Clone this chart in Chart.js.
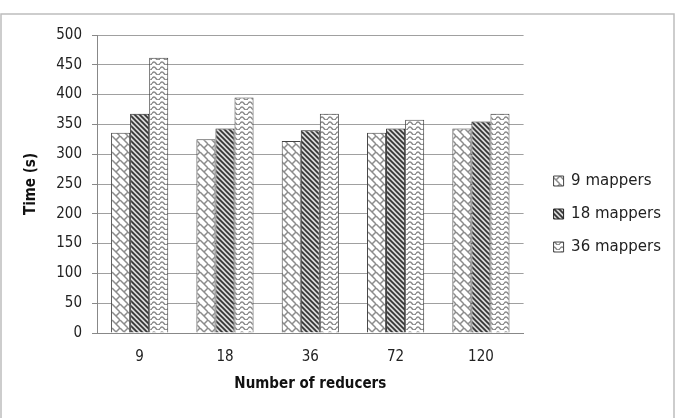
<!DOCTYPE html>
<html><head><meta charset="utf-8">
<script src="https://cdn.jsdelivr.net/npm/chart.js@4/dist/chart.umd.min.js"></script>
<style>html,body{margin:0;padding:0;background:#fff}#wrap{width:683px;height:418px;position:relative}</style>
</head><body><div id="wrap"><canvas id="c" width="683" height="418"></canvas></div>
<script>
const categories = ['9', '18', '36', '72', '120'];
const mappers9 = [336, 325, 322, 336, 343];
const mappers18 = [368, 343, 340, 343, 355];
const mappers36 = [462, 395, 368, 358, 368];
const seriesNames = ['9 mappers', '18 mappers', '36 mappers'];
const yTicks = [0, 50, 100, 150, 200, 250, 300, 350, 400, 450, 500];

function pattern(type) {
  const c = document.createElement('canvas');
  const x = c.getContext('2d');
  if (type === 1) {
    c.width = 8; c.height = 8;
    x.fillStyle = '#fff'; x.fillRect(0, 0, 8, 8);
    x.strokeStyle = '#8c8c8c'; x.lineWidth = 1.5;
    x.beginPath();
    x.moveTo(-1, -1); x.lineTo(9, 9);
    x.moveTo(-8, 0); x.lineTo(0, 8);
    x.moveTo(4, 4); x.lineTo(8, 0);
    x.moveTo(0, 8); x.lineTo(-1, 9);
    x.stroke();
  } else if (type === 2) {
    c.width = 5; c.height = 5;
    x.fillStyle = '#d8d8d8'; x.fillRect(0, 0, 5, 5);
    x.strokeStyle = '#333'; x.lineWidth = 1.7;
    x.beginPath();
    for (let k = -5; k <= 5; k += 5) { x.moveTo(k - 1, -1); x.lineTo(k + 6, 6); }
    x.stroke();
  } else {
    c.width = 8; c.height = 5;
    x.fillStyle = '#fff'; x.fillRect(0, 0, 8, 5);
    x.strokeStyle = '#8a8a8a'; x.lineWidth = 1.4;
    x.beginPath();
    x.moveTo(0, 3.5); x.quadraticCurveTo(2, 0.5, 4, 3.5); x.quadraticCurveTo(6, 6.5, 8, 3.5);
    x.stroke();
  }
  return x.createPattern(c, 'repeat');
}

const borderPlugin = {
  id: 'outerBorder',
  afterLayout(chart) {
    const lg = chart.legend;
    if (lg) { lg.left += 12; lg.right += 12; }
  },
  afterDraw(chart) {
    const ctx = chart.ctx;
    ctx.save();
    ctx.strokeStyle = '#bdbdbd'; ctx.lineWidth = 1.5;
    ctx.strokeRect(1, 14, 673, 410);
    ctx.restore();
  }
};

const FONT = "'DejaVu Sans Condensed', 'DejaVu Sans', sans-serif";
Chart.defaults.font.family = FONT;
Chart.defaults.color = '#222';

new Chart(document.getElementById('c'), {
  type: 'bar',
  data: {
    labels: categories,
    datasets: [
      { label: seriesNames[0], data: mappers9, backgroundColor: pattern(1), borderColor: '#444', borderWidth: 1 },
      { label: seriesNames[1], data: mappers18, backgroundColor: pattern(2), borderColor: '#222', borderWidth: 1 },
      { label: seriesNames[2], data: mappers36, backgroundColor: pattern(3), borderColor: '#444', borderWidth: 1 }
    ]
  },
  plugins: [borderPlugin],
  options: {
    responsive: false,
    animation: false,
    layout: { padding: { left: 22, top: 35, right: 24, bottom: 25 } },
    datasets: { bar: { categoryPercentage: 0.67, barPercentage: 1.0 } },
    plugins: {
      tooltip: { enabled: false },
      legend: {
        position: 'right',
        labels: { boxWidth: 10, boxHeight: 10, padding: 18, font: { size: 15, family: "'DejaVu Sans', sans-serif" }, color: '#222' }
      }
    },
    scales: {
      x: {
        afterFit(s) { s.height = 60; },
        grid: { display: false, drawTicks: false },
        border: { color: '#888' },
        ticks: { font: { size: 15 }, padding: 15, color: '#222' },
        title: { display: true, text: 'Number of reducers', font: { size: 15, weight: 'bold' }, color: '#111', padding: { top: 4, bottom: 0 } }
      },
      y: {
        min: 0, max: 500,
        afterFit(s) { s.width = 75; },
        afterBuildTicks(s) { s.ticks = yTicks.map(v => ({ value: v })); },
        grid: { color: '#a0a0a0', tickLength: 5, tickColor: '#888' },
        border: { color: '#888' },
        ticks: { font: { size: 15 }, padding: 10, color: '#222' },
        title: { display: true, text: 'Time (s)', font: { size: 15, weight: 'bold' }, color: '#111', padding: { top: 0, bottom: 4 } }
      }
    }
  }
});
</script></body></html>
